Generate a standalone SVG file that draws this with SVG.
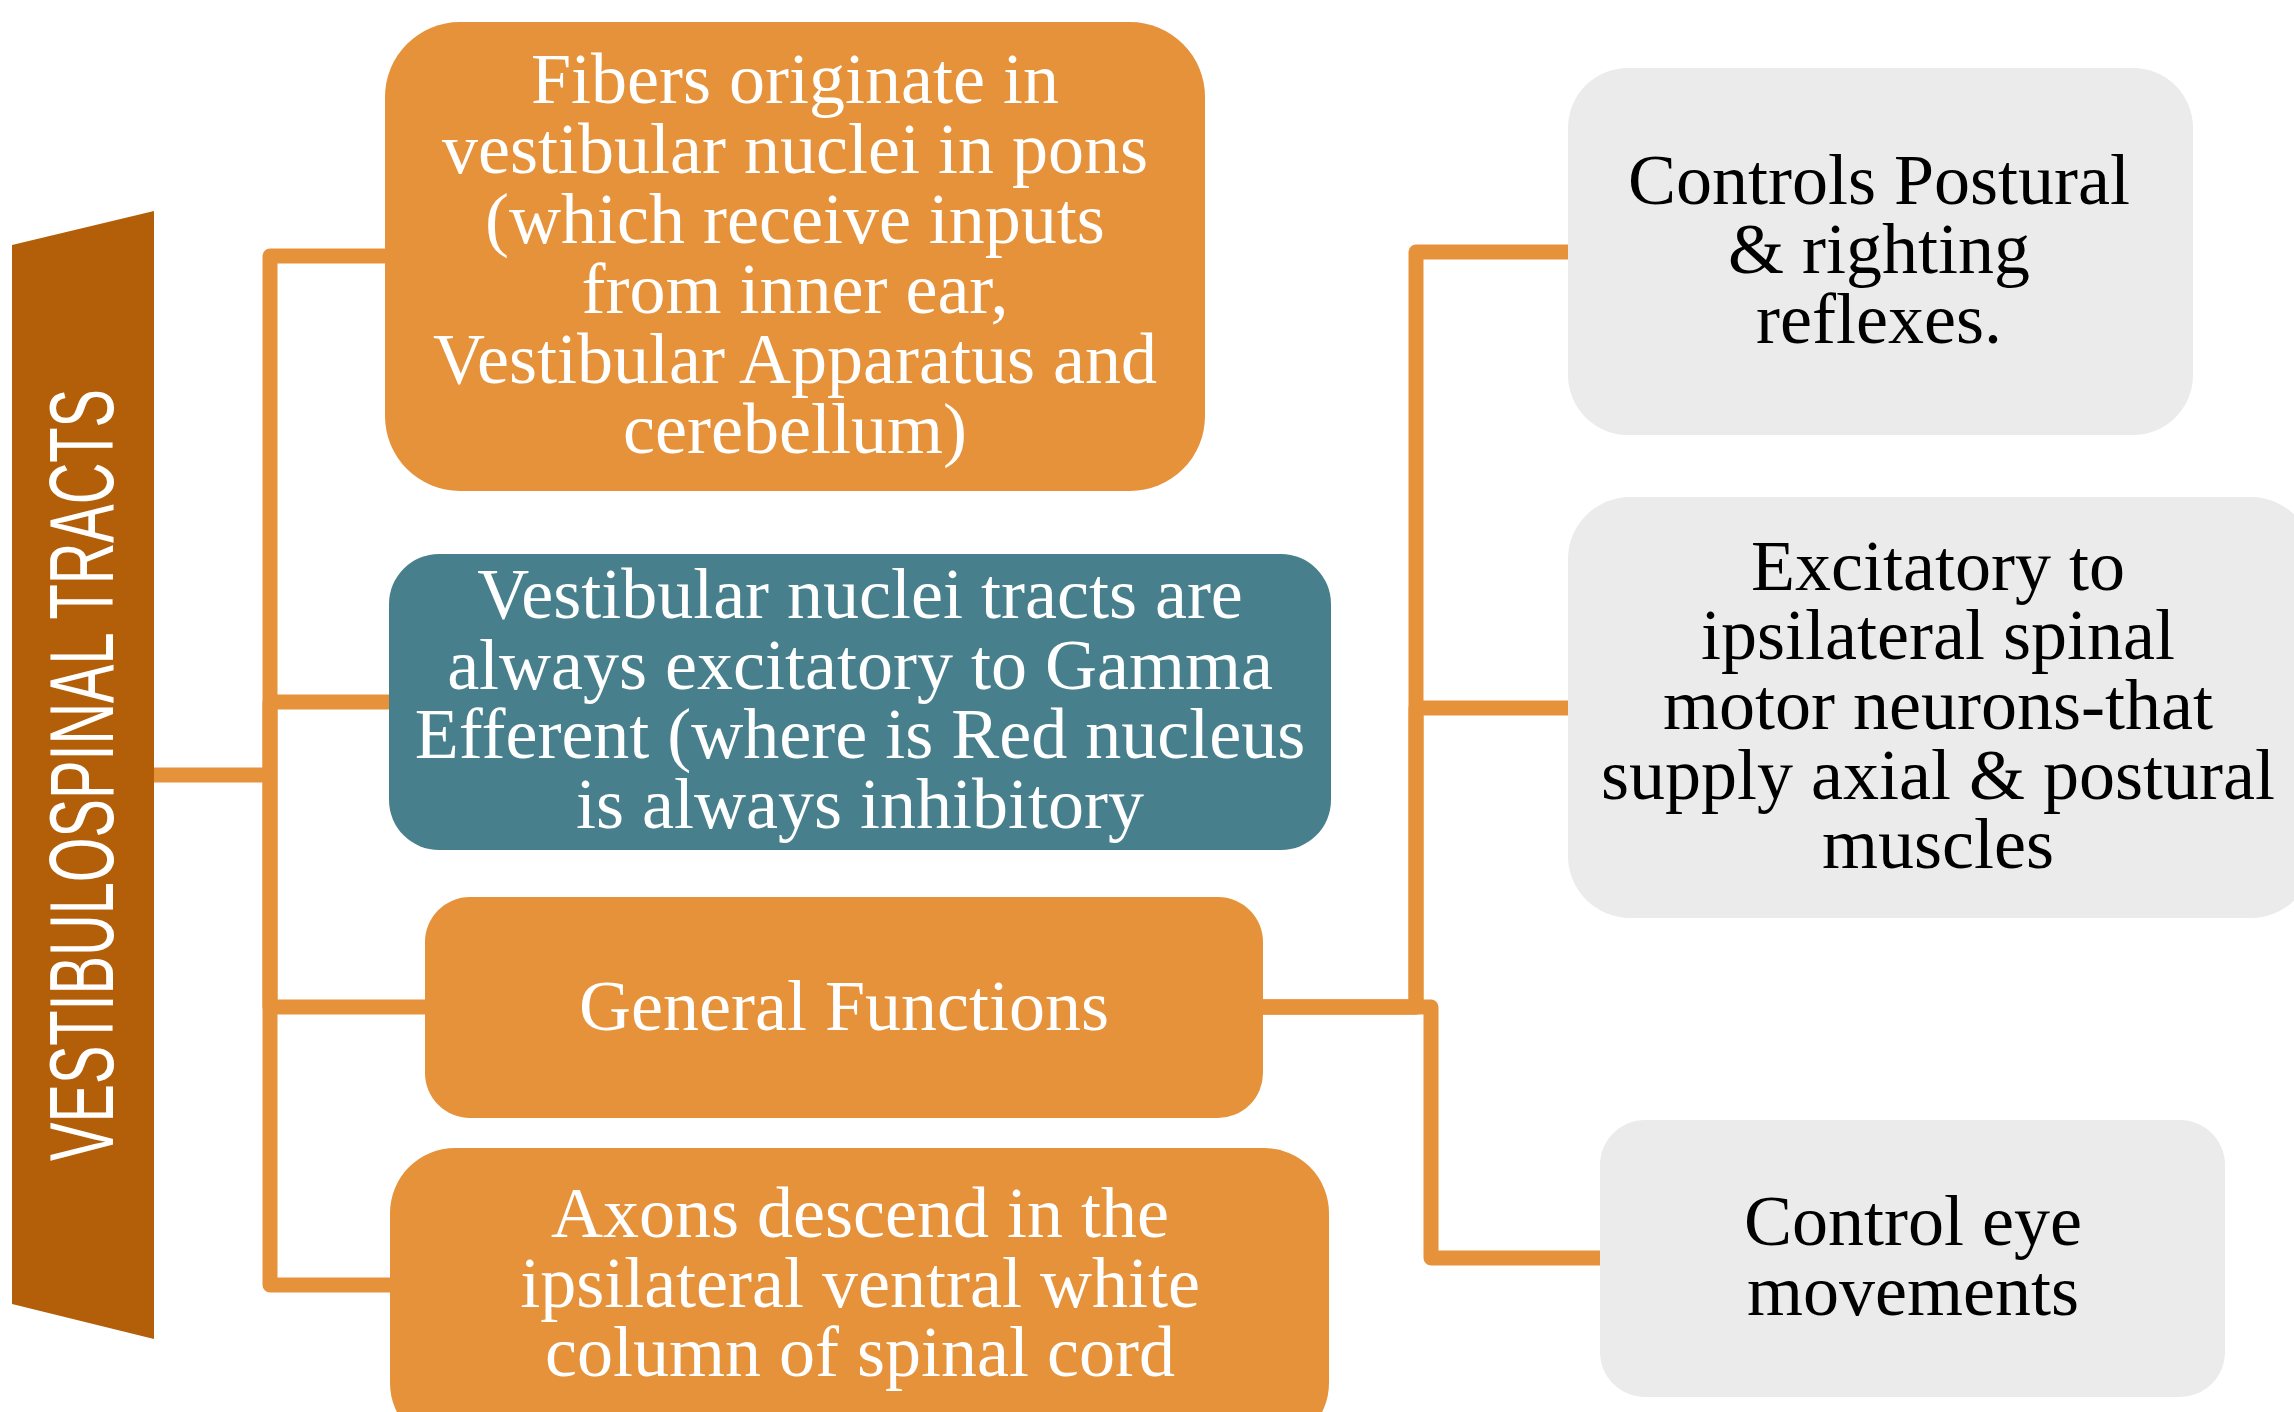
<svg xmlns="http://www.w3.org/2000/svg" width="2294" height="1412" viewBox="0 0 2294 1412">
<style>
.orange{fill:#E6923A}
.teal{fill:#47808C}
.gray{fill:#EBEBEB}
.t{font-family:"Liberation Serif","Times New Roman",serif;font-size:72px;text-anchor:middle}
.w{fill:#FFFFFF}
.k{fill:#000000}
.conn{fill:none;stroke:#E6923A;stroke-width:15;stroke-linejoin:round}
</style>
<rect width="2294" height="1412" fill="#FFFFFF"/>
<g id="connectors">
<path class="conn" d="M154,775 H270"/>
<path class="conn" d="M270,775 V256 H386"/>
<path class="conn" d="M270,775 V702 H390"/>
<path class="conn" d="M270,775 V1007 H425"/>
<path class="conn" d="M270,775 V1285 H392"/>
<path class="conn" d="M1262,1007 H1416 V252 H1569"/>
<path class="conn" d="M1262,1007 H1416 V708 H1569"/>
<path class="conn" d="M1262,1007 H1431 V1258 H1601"/>
</g>
<g id="banner">
<polygon points="12,245 154,211 154,1339 12,1304" fill="#B35E08"/>
<text transform="translate(113,775) rotate(-90)" x="0" y="0" font-family="Liberation Sans, Arial, sans-serif" font-size="90" fill="#FFFFFF" text-anchor="middle" textLength="772" lengthAdjust="spacingAndGlyphs">VESTIBULOSPINAL TRACTS</text>
</g>
<g id="node-fibers">
<rect class="orange" x="385" y="22" width="820" height="469" rx="75" ry="75"/>
<text class="t w"><tspan x="795" y="103">Fibers originate in</tspan><tspan x="795" y="173">vestibular nuclei in pons</tspan><tspan x="795" y="243">(which receive inputs</tspan><tspan x="795" y="313">from inner ear,</tspan><tspan x="795" y="383">Vestibular Apparatus and</tspan><tspan x="795" y="453">cerebellum)</tspan></text>
</g>
<g id="node-vestibular-nuclei">
<rect class="teal" x="389" y="554" width="942" height="296" rx="50" ry="50"/>
<text class="t w"><tspan x="860" y="618">Vestibular nuclei tracts are</tspan><tspan x="860" y="689">always excitatory to Gamma</tspan><tspan x="860" y="758">Efferent (where is Red nucleus</tspan><tspan x="860" y="828">is always inhibitory</tspan></text>
</g>
<g id="node-general">
<rect class="orange" x="425" y="897" width="838" height="221" rx="45" ry="45"/>
<text class="t w" x="844" y="1030">General Functions</text>
</g>
<g id="node-axons">
<rect class="orange" x="390" y="1148" width="939" height="300" rx="65" ry="65"/>
<text class="t w"><tspan x="860" y="1237">Axons descend in the</tspan><tspan x="860" y="1307">ipsilateral ventral white</tspan><tspan x="860" y="1376">column of spinal cord</tspan></text>
</g>
<g id="node-postural">
<rect class="gray" x="1568" y="68" width="625" height="367" rx="60" ry="60"/>
<text class="t k"><tspan x="1879" y="204">Controls Postural</tspan><tspan x="1879" y="273">&amp; righting</tspan><tspan x="1879" y="343">reflexes.</tspan></text>
</g>
<g id="node-excitatory">
<rect class="gray" x="1568" y="497" width="745" height="421" rx="62" ry="62"/>
<text class="t k"><tspan x="1938" y="590">Excitatory to</tspan><tspan x="1938" y="659">ipsilateral spinal</tspan><tspan x="1938" y="729">motor neurons-that</tspan><tspan x="1938" y="799">supply axial &amp; postural</tspan><tspan x="1938" y="868">muscles</tspan></text>
</g>
<g id="node-eye">
<rect class="gray" x="1600" y="1120" width="625" height="277" rx="45" ry="45"/>
<text class="t k"><tspan x="1913" y="1245">Control eye</tspan><tspan x="1913" y="1315">movements</tspan></text>
</g>
</svg>
